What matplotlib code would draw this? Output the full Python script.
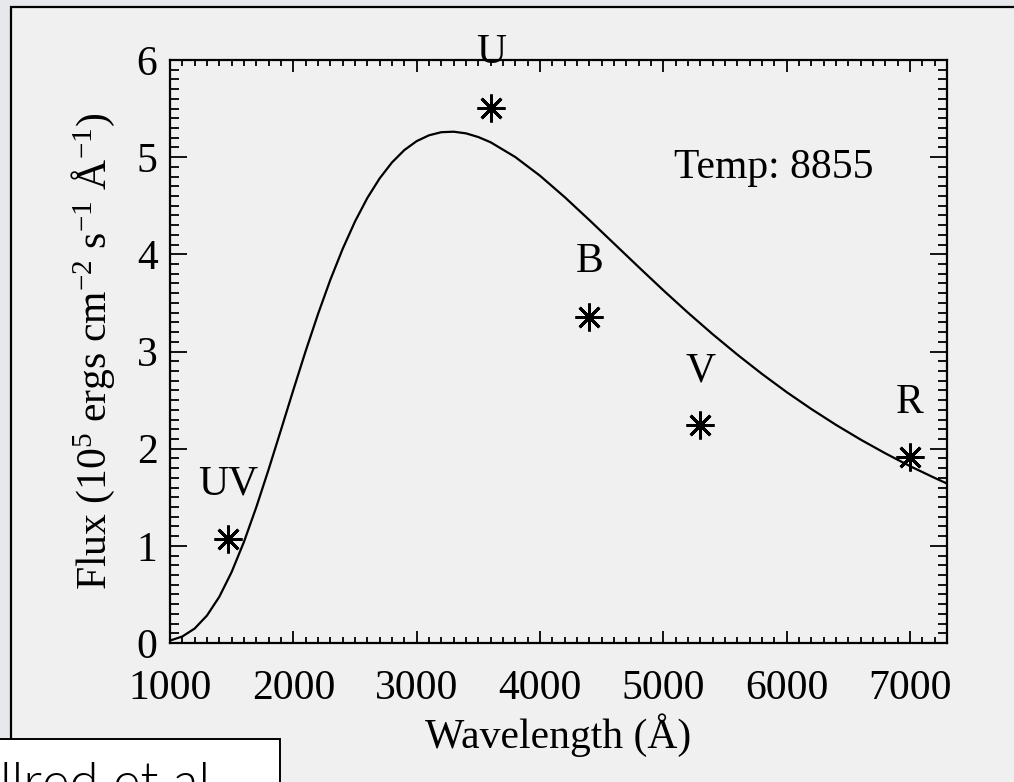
import matplotlib
matplotlib.use("Agg")
import matplotlib.pyplot as plt
from matplotlib.patches import Rectangle
from matplotlib.ticker import MultipleLocator

# ---- data ----
model_wavelength = [1000, 1100, 1200, 1300, 1400, 1500, 1600, 1700, 1800, 1900,
                    2000, 2100, 2200, 2300, 2400, 2500, 2600, 2700, 2800, 2900,
                    3000, 3100, 3200, 3300, 3400, 3500, 3600, 3800, 4000, 4200,
                    4400, 4600, 4800, 5000, 5200, 5400, 5600, 5800, 6000, 6200,
                    6400, 6600, 6800, 7000, 7200, 7300]
model_flux = [0.025, 0.067, 0.149, 0.283, 0.476, 0.731, 1.042, 1.399, 1.788, 2.194,
              2.604, 3.005, 3.385, 3.738, 4.056, 4.338, 4.580, 4.782, 4.946, 5.073,
              5.165, 5.225, 5.257, 5.262, 5.245, 5.207, 5.153, 5.001, 4.809, 4.589,
              4.353, 4.111, 3.869, 3.630, 3.399, 3.178, 2.968, 2.769, 2.582, 2.408,
              2.245, 2.093, 1.952, 1.820, 1.699, 1.641]

band_names = ["UV", "U", "B", "V", "R"]
band_wavelength = [1470, 3600, 4400, 5300, 7000]
band_flux = [1.07, 5.51, 3.36, 2.24, 1.91]

temperature_label = "Temp: 8855"
x_ticks = [1000, 2000, 3000, 4000, 5000, 6000, 7000]
y_ticks = [0, 1, 2, 3, 4, 5, 6]

W, H = 1014, 782
plt.rcParams["font.family"] = ["Liberation Serif", "DejaVu Serif"]
plt.rcParams["mathtext.fontset"] = "custom"
plt.rcParams["mathtext.rm"] = "Liberation Serif"
plt.rcParams["mathtext.it"] = "Liberation Serif:italic"

fig = plt.figure(figsize=(W / 100, H / 100), dpi=100, facecolor="#e7e8ec")

def fx(px):
    return px / W

def fy(py):
    return 1 - py / H

# panel background with frame
panel = Rectangle((fx(11), fy(H + 20)), fx(W + 20 - 11), fy(7) - fy(H + 20),
                  transform=fig.transFigure, facecolor="#f0f0f0",
                  edgecolor="black", linewidth=1.6, zorder=-5)
fig.patches.append(panel)

ax = fig.add_axes([fx(170), fy(643), fx(947) - fx(170), fy(60) - fy(643)])
ax.set_zorder(1)
ax.set_facecolor("#f0f0f0")

ax.plot(model_wavelength, model_flux, color="black", linewidth=1.6)
ax.plot(band_wavelength, band_flux, linestyle="none", marker=(8, 2, 0),
        markersize=20, markeredgewidth=2.1, color="black")
for name, xw, yf in zip(band_names, band_wavelength, band_flux):
    ax.text(xw, yf + 0.56, name, ha="center", va="center", fontsize=30,
            clip_on=False)

ax.text(5090, 4.79, temperature_label, ha="left", va="baseline", fontsize=30)

ax.set_xlim(1000, 7300)
ax.set_ylim(0, 6)
ax.set_xticks(x_ticks)
ax.set_yticks(y_ticks)
ax.xaxis.set_minor_locator(MultipleLocator(100))
ax.yaxis.set_minor_locator(MultipleLocator(0.1))
ax.tick_params(axis="both", which="both", direction="in", top=True, right=True,
               width=1.3, labelsize=30, colors="black")
ax.tick_params(axis="x", which="major", length=8.5, pad=19)
ax.tick_params(axis="x", which="minor", length=4)
ax.tick_params(axis="y", which="major", length=12, pad=9)
ax.tick_params(axis="y", which="minor", length=6.5)
for s in ax.spines.values():
    s.set_linewidth(1.6)

ax.set_xlabel("Wavelength (Å)", fontsize=30, labelpad=4)
ax.set_ylabel("Flux (10$^5$ ergs cm$^{-2}$ s$^{-1}$ Å$^{-1}$)", fontsize=30,
              labelpad=14)

# citation box, cropped at the bottom-left
box = Rectangle((fx(-5), fy(H + 30)), fx(280 + 5), fy(739) - fy(H + 30),
                transform=fig.transFigure, facecolor="white",
                edgecolor="black", linewidth=1.4, zorder=5)
fig.patches.append(box)
fig.text(fx(0), fy(800), "llred et al.", ha="left", va="baseline",
         fontsize=38, family=["Lato", "DejaVu Sans"], fontweight=300,
         zorder=6)

fig.savefig("out.png", dpi=100, facecolor=fig.get_facecolor())
